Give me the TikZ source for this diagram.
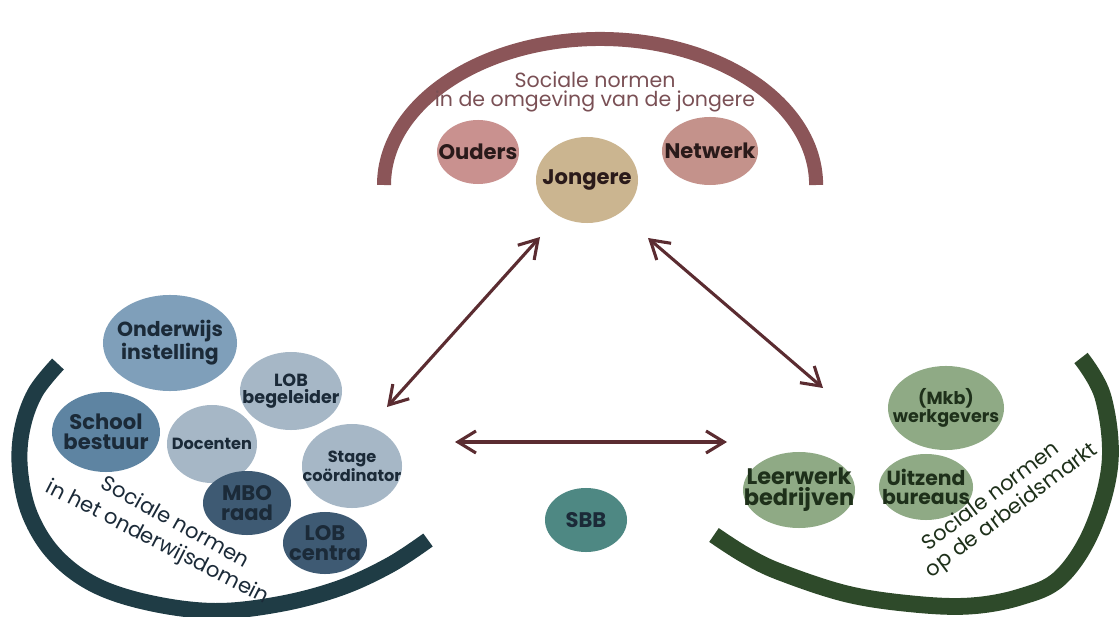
\documentclass[tikz,border=0pt]{standalone}
\usepackage{fontspec}
\setmainfont{Poppins}
\usetikzlibrary{shapes.geometric,arrows.meta}

\definecolor{topArc}{HTML}{8B5558}
\definecolor{topTxt}{HTML}{7A5055}
\definecolor{topNode}{HTML}{2A1A1A}
\definecolor{oudersCol}{HTML}{C9918F}
\definecolor{netwerkCol}{HTML}{C4928B}
\definecolor{jongereCol}{HTML}{CBB590}
\definecolor{eduArc}{HTML}{1F3C45}
\definecolor{eduTxt}{HTML}{1B2A38}
\definecolor{eduA}{HTML}{7F9FBA}
\definecolor{eduB}{HTML}{5E84A2}
\definecolor{eduC}{HTML}{A6B7C6}
\definecolor{eduD}{HTML}{3E5A73}
\definecolor{workArc}{HTML}{2E4A2A}
\definecolor{workTxt}{HTML}{1E301A}
\definecolor{workCol}{HTML}{8FAA85}
\definecolor{sbbCol}{HTML}{4E8883}
\definecolor{linkCol}{HTML}{5B2C31}

\tikzset{
  blob/.style={ellipse, inner sep=-1cm, align=center,
    font=\bfseries\fontsize{15}{14}\selectfont},
  mid/.style={font=\bfseries\fontsize{14.5}{14}\selectfont},
  small/.style={font=\bfseries\fontsize{12.5}{12.5}\selectfont},
  tiny/.style={font=\bfseries\fontsize{11.5}{12}\selectfont},
  band/.style={line width=#1},
  link/.style={draw=linkCol, line width=2.2pt, <->,
    >={Straight Barb[length=4.5mm,width=5.5mm]}},
  arctext/.style={font=\fontsize{15}{15}\selectfont, inner sep=0pt}
}

\begin{document}
\begin{tikzpicture}[x=0.025cm, y=-0.025cm]
\useasboundingbox (0,0) rectangle (1119,617);

% the three bands
\draw[band=0.35cm, draw=topArc] (384,185) arc[start angle=180, end angle=0, x radius=5.4cm, y radius=3.65cm];
\draw[band=0.4cm, draw=eduArc] plot[smooth, tension=0.6] coordinates
  {(58,364) (35,393) (22,430) (20,470) (30,515) (55,555) (95,585) (150,603) (215,611) (280,604) (340,588) (390,565) (428,540)};
\draw[band=0.42cm, draw=workArc] plot[smooth, tension=0.6] coordinates
  {(714,535) (745,555) (780,572) (847,594) (913,604) (970,606) (1020,597) (1060,578) (1092,530) (1110,463) (1103,397) (1081,358)};

% top group
\node[text=topTxt, font=\fontsize{14.6}{13.5}\selectfont, align=center] (titel) at (595,92)
  {Sociale normen\\in de omgeving van de jongere};
\node[blob, fill=oudersCol, text=topNode, minimum width=2.05cm, minimum height=1.6cm] (ouders) at (478,152) {Ouders};
\node[blob, fill=netwerkCol, text=topNode, minimum width=2.4cm, minimum height=1.7cm] (netwerk) at (710,151) {Netwerk};
\node[blob, fill=jongereCol, text=topNode, minimum width=2.55cm, minimum height=2.15cm] (jongere) at (587,180) {Jongere};

% onderwijs
\node[blob, mid, fill=eduA, text=eduTxt, minimum width=3.35cm, minimum height=2.4cm] (instelling) at (170,343) {Onderwijs\\instelling};
\node[blob, small, fill=eduC, text=eduTxt, minimum width=2.55cm, minimum height=1.95cm] (begeleider) at (291,391) {LOB\\begeleider};
\node[blob, fill=eduB, text=eduTxt, minimum width=2.7cm, minimum height=2cm] (bestuur) at (106,432) {School\\bestuur};
\node[blob, tiny, fill=eduC, text=eduTxt, minimum width=2.25cm, minimum height=1.95cm] (docenten) at (212,444) {Docenten};
\node[blob, tiny, fill=eduC, text=eduTxt, minimum width=2.5cm, minimum height=2.1cm] (stage) at (352,466) {Stage\\coördinator};
\node[blob, fill=eduD, text=eduTxt, minimum width=2.2cm, minimum height=1.6cm] (mbo) at (247,503) {MBO\\raad};
\node[blob, fill=eduD, text=eduTxt, minimum width=2.1cm, minimum height=1.55cm] (centra) at (325,543) {LOB\\centra};
\node[arctext, text=eduTxt, rotate=-29] (eduT1) at (176,521) {Sociale normen};
\node[arctext, text=eduTxt, rotate=-27] (eduT2) at (157,543) {in het onderwijsdomein};

% arbeidsmarkt
\node[blob, small, fill=workCol, text=workTxt, minimum width=2.9cm, minimum height=2.1cm] (werkgevers) at (946,408) {(Mkb)\\werkgevers};
\node[blob, font=\bfseries\fontsize{16}{15}\selectfont, fill=workCol, text=workTxt, minimum width=2.8cm, minimum height=1.9cm] (leerwerk) at (799,490) {Leerwerk\\bedrijven};
\node[blob, mid, fill=workCol, text=workTxt, minimum width=2.35cm, minimum height=1.65cm] (uitzend) at (926,487) {Uitzend\\bureaus};
\node[arctext, text=workTxt, rotate=37] (workT1) at (990,495) {Sociale normen};
\node[arctext, text=workTxt, rotate=37] (workT2) at (1012,511) {op de arbeidsmarkt};

\node[blob, fill=sbbCol, text=eduTxt, minimum width=2.05cm, minimum height=1.6cm] (sbb) at (586,520) {SBB};

% arrows
\coordinate (jongL) at (540,237);
\coordinate (eduUp) at (387,407);
\coordinate (jongR) at (648,238);
\coordinate (workUp) at (823,388);
\coordinate (eduSide) at (455,442);
\coordinate (workSide) at (727,442);
\draw[link] (jongL) -- (eduUp);
\draw[link] (jongR) -- (workUp);
\draw[link] (eduSide) -- (workSide);
\end{tikzpicture}
\end{document}
